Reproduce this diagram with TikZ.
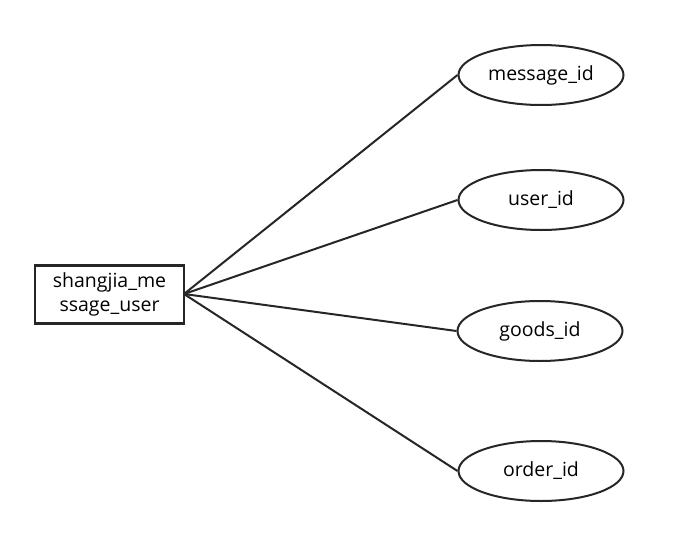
\documentclass[tikz,border=0pt]{standalone}
\usepackage{fontspec}
\setmainfont{Open Sans}
\usetikzlibrary{shapes.geometric}
\begin{document}
\begin{tikzpicture}[x=1pt,y=-1pt,
  ent/.style={draw=black!85,line width=2.4pt,fill=white,minimum width=149pt,minimum height=58pt,inner sep=0pt,align=center,font=\fontsize{19.5}{24}\selectfont},
  attr/.style={ellipse,draw=black!85,line width=2pt,fill=white,minimum width=165pt,minimum height=60pt,inner sep=0pt,font=\fontsize{19.5}{24}\selectfont},
  link/.style={draw=black!85,line width=2pt}]
\useasboundingbox (0,0) rectangle (686,533);
\coordinate (hub) at (184,294);
\node[attr] (m) at (541,75) {message\_id};
\node[attr] (u) at (541,200) {user\_id};
\node[attr] (g) at (540,331) {goods\_id};
\node[attr] (o) at (541,471) {order\_id};
\draw[link] (hub) -- (m.west);
\draw[link] (hub) -- (u.west);
\draw[link] (hub) -- (g.west);
\draw[link] (hub) -- (o.west);
\node[ent] (e) at (109.5,294.5) {shangjia\_me\\ssage\_user};
\end{tikzpicture}
\end{document}
